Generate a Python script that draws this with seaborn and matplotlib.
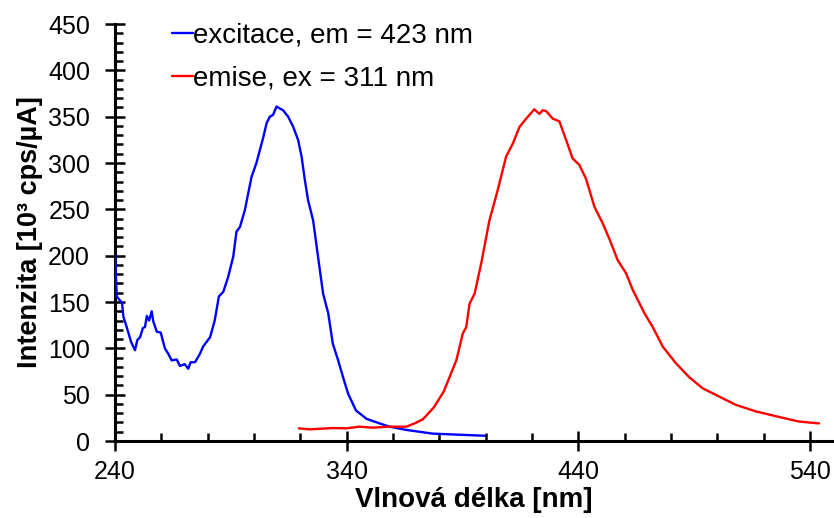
import numpy as np
import pandas as pd
import matplotlib
matplotlib.use("Agg")
import matplotlib.pyplot as plt
import seaborn as sns

## data ---------------------------------------------------------------------
ex_nm = [240.0, 240.7, 243.0, 243.6, 245.0, 246.9, 248.6, 249.6, 250.8, 252.0,
         252.9, 253.7, 254.7, 255.8, 256.5, 258.0, 259.7, 261.5, 263.0, 264.4,
         266.6, 268.0, 270.0, 271.6, 272.6, 274.5, 276.6, 278.0, 281.0, 283.0,
         284.8, 286.7, 288.8, 291.0, 292.4, 293.9, 296.0, 298.9, 301.0, 304.0,
         305.4, 306.8, 308.2, 309.7, 311.0, 312.5, 314.7, 316.9, 319.0, 320.5,
         321.9, 323.3, 325.5, 327.6, 329.8, 332.0, 334.0, 336.3, 338.4, 340.6,
         344.0, 348.5, 354.2, 358.5, 365.7, 377.0, 391.6, 399.5]
ex_int = [200, 156, 149, 134, 123, 107, 98, 109, 112, 122,
          123, 135, 130, 140, 129, 118, 117, 100, 94, 87,
          88, 81, 83, 78, 85, 85, 94, 102, 112, 130,
          156, 161, 177, 199, 226, 231, 249, 285, 300, 328,
          343, 350, 352, 361, 359, 357, 350, 339, 325, 307,
          282, 260, 238, 199, 159, 138, 105, 87, 69, 51,
          33, 24, 19, 15.5, 12, 8, 6.5, 5.7]

em_nm = [319.3, 324.0, 334.0, 339.9, 345.6, 351.3, 358.5, 365.7, 369.3, 372.9,
         377.5, 381.8, 384.4, 387.3, 390.1, 391.6, 393.0, 395.2, 398.0, 401.6,
         405.2, 408.8, 411.7, 414.6, 417.5, 421.0, 423.2, 424.6, 426.1, 428.9,
         431.8, 434.7, 437.5, 440.4, 443.3, 446.9, 450.5, 453.4, 457.0, 460.6,
         463.5, 468.5, 472.1, 476.4, 482.1, 487.8, 493.6, 500.8, 508.0, 516.6,
         526.6, 535.3, 543.9]
em_int = [13.7, 12.6, 14, 13.7, 15.5, 14.4, 15.5, 15.5, 19, 23.5,
          36, 53, 69, 87, 116, 123, 148, 159, 191, 238,
          271, 307, 321, 339, 348, 358, 353, 357, 356, 348,
          345, 325, 305, 298, 283, 253, 235, 218, 195, 181,
          163, 138, 123, 102, 84, 69, 57, 48, 39, 32,
          26, 21, 19]

lbl_ex = "excitace, em = 423 nm"
lbl_em = "emise, ex = 311 nm"

x_major = [240, 340, 440, 540]
x_minor = list(range(240, 551, 20))
y_major = list(range(0, 451, 50))
y_minor = list(range(0, 451, 10))

df = pd.concat([
    pd.DataFrame({"nm": ex_nm, "I": ex_int, "serie": lbl_ex}),
    pd.DataFrame({"nm": em_nm, "I": em_int, "serie": lbl_em}),
], ignore_index=True)

## plot ---------------------------------------------------------------------
sns.set_style("ticks", rc={"text.color": "black", "axes.labelcolor": "black",
                           "xtick.color": "black", "ytick.color": "black"})
plt.rcParams["font.family"] = ["Liberation Sans", "DejaVu Sans"]

fig = plt.figure(figsize=(8.34, 5.18), dpi=100)
ax = fig.add_axes([0.138, 0.1486, 0.861, 0.805])

sns.lineplot(data=df, x="nm", y="I", hue="serie", sort=False,
             palette={lbl_ex: "#0000ff", lbl_em: "#ff0000"},
             linewidth=1.7, ax=ax, zorder=3)

ax.set_xlim(240, 550)
ax.set_ylim(0, 450)
ax.set_xticks(x_major)
ax.set_xticks(x_minor, minor=True)
ax.set_yticks(y_major)
ax.set_yticks(y_minor, minor=True)

sns.despine(ax=ax)
for s in ["left", "bottom"]:
    ax.spines[s].set_linewidth(2.2)
    ax.spines[s].set_color("black")
ax.tick_params(which="major", direction="inout", length=14, width=1.8,
               labelsize=18, colors="black")
ax.tick_params(axis="y", which="major", pad=11)
ax.tick_params(axis="x", which="major", pad=7)
ax.tick_params(which="minor", direction="in", length=6, width=1.8)

ax.set_xlabel("Vlnová délka [nm]", fontsize=20, fontweight="bold", labelpad=2)
ax.set_ylabel("Intenzita [10³ cps/µA]", fontsize=19.5, fontweight="bold", labelpad=4)

ax.legend(loc="upper left", bbox_to_anchor=(0.079, 1.004), frameon=False,
          fontsize=20, handlelength=0.75, handletextpad=0.02,
          labelspacing=0.62, borderaxespad=0, borderpad=0)

fig.savefig("out.png", dpi=100)
